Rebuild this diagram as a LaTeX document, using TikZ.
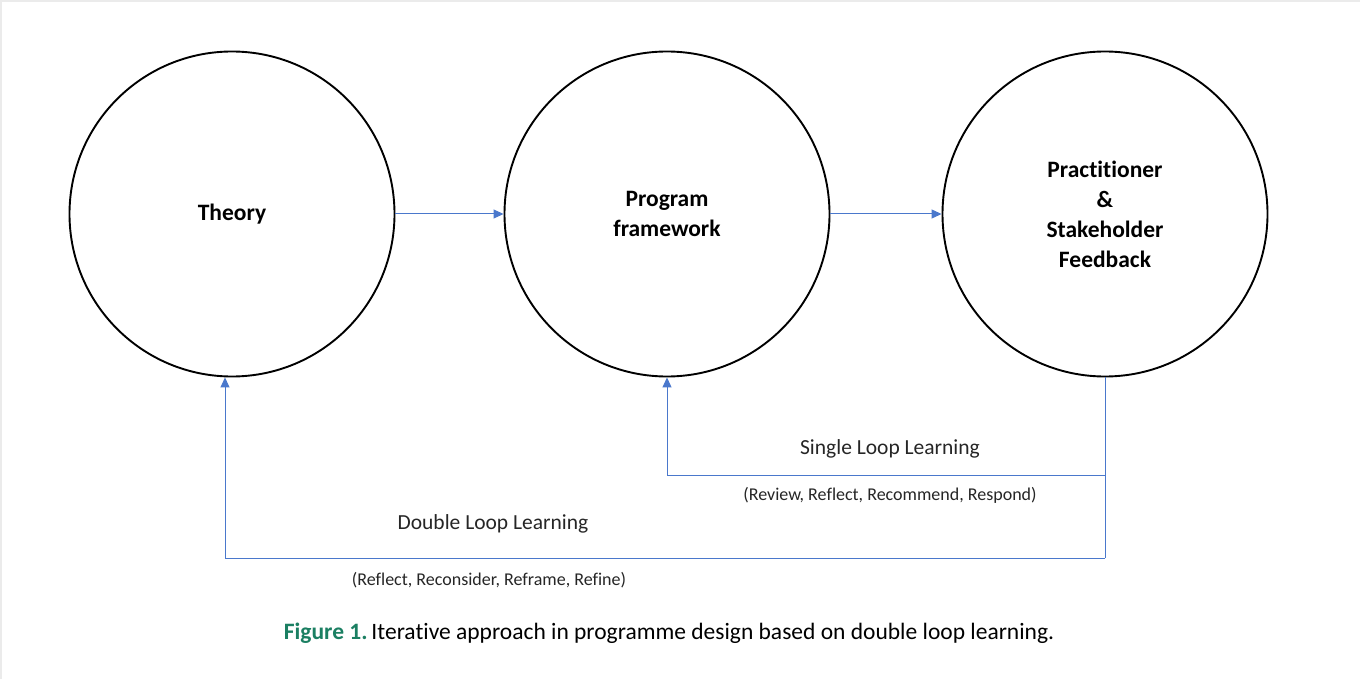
\documentclass[tikz,border=0pt]{standalone}
\usepackage{fontspec}
\setmainfont{Carlito}[Ligatures={NoCommon}]
\usetikzlibrary{arrows.meta}
\definecolor{lineblue}{HTML}{4A78CC}
\definecolor{figgreen}{HTML}{1B7F62}
\begin{document}
\begin{tikzpicture}[x=1pt,y=-1pt,
  stage/.style={circle,draw=black,line width=1.9pt,minimum size=325pt,inner sep=0pt,align=center,font=\fontsize{23.5}{30}\selectfont\bfseries},
  flow/.style={draw=lineblue,line width=1pt,-{Triangle[length=10pt,width=9pt]}},
  loop/.style={draw=lineblue,line width=1pt},
  lbl/.style={font=\fontsize{21.5}{24}\selectfont,text=black!85},
  sublbl/.style={font=\fontsize{18}{20}\selectfont,text=black!85}]
\useasboundingbox (0,0) rectangle (1360,679);
\fill[white] (0,0) rectangle (1360,679);
\draw[black!8,line width=2pt] (1,679) -- (1,1) -- (1360,1);
\node[stage] (theory) at (232,214) {Theory};
\node[stage] (prog) at (667,214) {Program\\framework};
\node[stage] (prac) at (1105,214) {Practitioner\\\&\\Stakeholder\\Feedback};
\draw[flow] (theory.east) -- (prog.west);
\draw[flow] (prog.east) -- (prac.west);
\coordinate (pb) at (1105,475);
\coordinate (db) at (1105,558);
\coordinate (tin) at ([xshift=-7pt]theory.south);
\draw[loop] (prac.south) -- (db);
\draw[loop] (prac.south |- pb) -- (prog.south |- pb);
\draw[flow] (prog.south |- pb) -- (prog.south);
\draw[loop] (db) -- (tin |- db);
\draw[flow] (tin |- db) -- (tin);
\node[lbl] (sll) at (890,449) {Single Loop Learning};
\node[sublbl] (sllsub) at (890,495) {(Review, Reflect, Recommend, Respond)};
\node[lbl] (dll) at (493,524) {Double Loop Learning};
\node[sublbl] (dllsub) at (489,580) {(Reflect, Reconsider, Reframe, Refine)};
\node[font=\fontsize{23.5}{26}\selectfont] (cap) at (669,633) {{\color{figgreen}\bfseries Figure 1.}\,Iterative approach in programme design based on double loop learning.};
\end{tikzpicture}
\end{document}
